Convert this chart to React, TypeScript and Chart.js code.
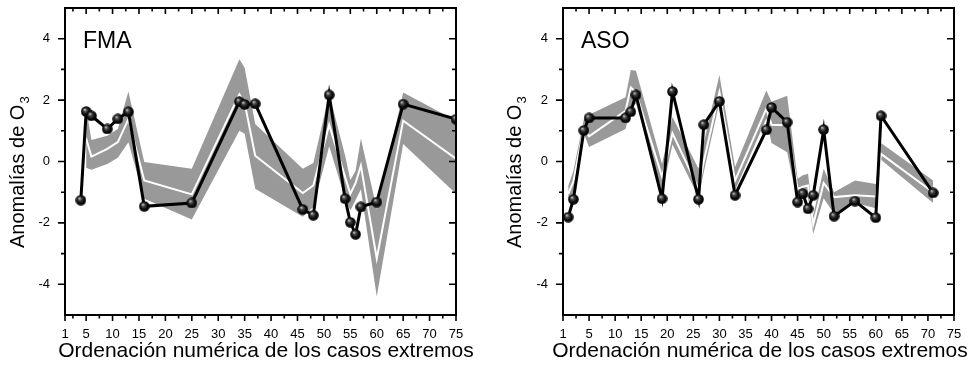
import React, { useEffect, useRef } from 'react';
import { Chart, registerables } from 'chart.js';
Chart.register(...registerables);

const FONT = '"Liberation Sans", Arial, Helvetica, sans-serif';

// ---------- FMA panel ----------
const fmaObsX = [4, 5, 6, 9, 11, 13, 16, 25, 34, 35, 37, 46, 48, 51, 54, 55, 56, 57, 60, 65, 75];
const fmaObs = [-1.26, 1.63, 1.49, 1.06, 1.39, 1.62, -1.46, -1.35, 1.95, 1.86, 1.88, -1.56, -1.75, 2.17, -1.21, -1.98, -2.37, -1.48, -1.32, 1.87, 1.38];
const fmaModX = [5, 6, 9, 11, 13, 16, 25, 34, 35, 37, 46, 48, 51, 54, 55, 56, 57, 60, 65, 75];
const fmaMean = [0.75, 0.16, 0.41, 0.63, 1.38, -0.62, -1.07, 2.19, 1.9, 0.19, -1.03, -0.78, 1.2, -0.5, -1.05, -0.7, -0.13, -3.16, 1.33, 0.09];
const fmaUpper = [1.75, 0.7, 0.84, 1.06, 2.28, -0.02, -0.24, 3.33, 3.05, 1.22, -0.24, -0.05, 2.2, 0.2, -0.6, -0.3, 0.75, -1.55, 2.25, 1.33];
const fmaLower = [-0.2, -0.27, -0.08, 0.12, 0.63, -1.21, -1.89, 1.0, 0.9, -0.89, -1.8, -1.48, 0.5, -1.2, -1.6, -1.25, -0.9, -4.4, 0.57, -1.05];
const fmaTickValues = [1, 5, 10, 15, 20, 25, 30, 35, 40, 45, 50, 55, 60, 65, 70, 75];
const fmaTickLabels = ['1', '5', '10', '15', '20', '25', '30', '35', '40', '45', '50', '55', '60', '65', '70', '75'];

// ---------- ASO panel ----------
const asoX = [1, 2, 4, 5, 12, 13, 14, 19, 21, 26, 27, 30, 33, 39, 40, 43, 45, 46, 47, 48, 50, 52, 56, 60, 61, 71];
const asoObs = [-1.81, -1.23, 1.01, 1.42, 1.42, 1.62, 2.17, -1.21, 2.28, -1.23, 1.2, 1.96, -1.1, 1.03, 1.76, 1.28, -1.32, -1.05, -1.54, -1.1, 1.04, -1.78, -1.29, -1.83, 1.49, -1.02];
const asoMean = [-1.05, -0.65, 1.11, 0.82, 1.65, 2.41, 2.25, -0.5, 0.92, -0.89, 0.0, 2.25, -0.62, 1.72, 1.2, 1.18, -0.89, -0.82, -0.78, -2.05, -0.7, -1.16, -1.1, -1.14, 0.25, -1.0];
const asoUpper = [-0.8, -0.3, 1.38, 1.52, 2.09, 2.98, 2.96, -0.08, 1.45, -0.24, 0.6, 2.82, -0.18, 2.31, 1.95, 2.14, -0.56, -0.45, -0.4, -1.75, -0.24, -1.0, -0.62, -0.73, 0.6, -0.62];
const asoLower = [-1.3, -1.05, 0.9, 0.47, 1.06, 1.72, 1.9, -1.0, 0.55, -1.16, -0.35, 1.92, -0.94, 1.4, 0.6, 0.3, -1.37, -1.2, -1.16, -2.35, -1.2, -1.7, -1.35, -1.52, 0.06, -1.35];
const asoTickValues = [0, 5, 10, 15, 20, 25, 30, 35, 40, 45, 50, 55, 60, 65, 70, 75];
const asoTickLabels = ['1', '5', '10', '15', '20', '25', '30', '35', '40', '45', '50', '55', '60', '65', '70', '75'];

// ---------- shared axes ----------
const yTickValues = [-4, -2, 0, 2, 4];
const yMinorValues = [-3, -1, 1, 3];
const xMinorValues = [2.5, 7.5, 12.5, 17.5, 22.5, 27.5, 32.5, 37.5, 42.5, 47.5, 52.5, 57.5, 62.5, 67.5, 72.5];
const yTitleMain = 'Anomalías de O';
const yTitleSub = '3';
const xTitle = 'Ordenación numérica de los casos extremos';

function makeBall(d: number) {
  const c = document.createElement('canvas');
  c.width = d;
  c.height = d;
  const g = c.getContext('2d')!;
  const r = d / 2;
  const grad = g.createRadialGradient(r - 1.6, r - 2, 0.2, r, r, r);
  grad.addColorStop(0, '#d0d0d0');
  grad.addColorStop(0.28, '#4a4a4a');
  grad.addColorStop(0.65, '#0d0d0d');
  grad.addColorStop(1, '#000');
  g.fillStyle = grad;
  g.beginPath();
  g.arc(r, r, r - 0.2, 0, Math.PI * 2);
  g.fill();
  return c;
}

const framePlugin = {
  id: 'frame',
  afterDraw(chart: any, _args: any, opts: any) {
    const { ctx, chartArea: a, scales } = chart;
    const x = scales.x;
    const y = scales.y;
    ctx.save();
    ctx.strokeStyle = '#000';
    ctx.lineWidth = 2;
    ctx.strokeRect(a.left, a.top, a.right - a.left, a.bottom - a.top);
    ctx.lineWidth = 1.6;
    const vt = (v: number, len: number) => {
      const px = x.getPixelForValue(v);
      ctx.beginPath();
      ctx.moveTo(px, a.bottom);
      ctx.lineTo(px, a.bottom + len);
      ctx.moveTo(px, a.top);
      ctx.lineTo(px, a.top + len);
      ctx.stroke();
    };
    const ht = (v: number, len: number) => {
      const py = y.getPixelForValue(v);
      ctx.beginPath();
      ctx.moveTo(a.left, py);
      ctx.lineTo(a.left - len, py);
      ctx.moveTo(a.right, py);
      ctx.lineTo(a.right - len, py);
      ctx.stroke();
    };
    opts.xMajor.forEach((v: number) => vt(v, 6));
    opts.xMinor.forEach((v: number) => vt(v, 3.5));
    yTickValues.forEach((v) => ht(v, 7));
    yMinorValues.forEach((v) => ht(v, 4));
    ctx.fillStyle = '#000';
    ctx.font = `23px ${FONT}`;
    ctx.textBaseline = 'alphabetic';
    ctx.textAlign = 'left';
    ctx.fillText(opts.label, a.left + 18, 48);

    // x-axis title
    ctx.font = `21px ${FONT}`;
    ctx.textAlign = 'center';
    ctx.fillText(xTitle, opts.xTitleCenter, 357);

    // rotated y-axis title with subscript
    ctx.textAlign = 'left';
    ctx.translate(a.left - opts.yTitleGap, 248);
    ctx.rotate(-Math.PI / 2);
    ctx.font = `20px ${FONT}`;
    ctx.fillText(yTitleMain, 0, 0);
    const w = ctx.measureText(yTitleMain).width;
    ctx.font = `13px ${FONT}`;
    ctx.fillText(yTitleSub, w + 1, 5);
    ctx.restore();
  },
};

type PanelProps = {
  label: string;
  obsX: number[];
  obs: number[];
  modX: number[];
  mean: number[];
  upper: number[];
  lower: number[];
  xMin: number;
  tickValues: number[];
  tickLabels: string[];
  yWidth: number;
  rightPad: number;
  yTitleGap: number;
  xTitleCenter: number;
};

function Panel(p: PanelProps) {
  const ref = useRef<HTMLCanvasElement>(null);
  useEffect(() => {
    const ball = makeBall(11);
    const pts = (xs: number[], ys: number[]) => xs.map((v, i) => ({ x: v, y: ys[i] }));
    const chart = new Chart(ref.current!, {
      type: 'line',
      data: {
        datasets: [
          {
            data: pts(p.obsX, p.obs),
            borderColor: '#000',
            borderWidth: 3,
            pointStyle: ball as any,
            pointRadius: 5,
            tension: 0,
          },
          {
            data: pts(p.modX, p.mean),
            borderColor: '#ffffff',
            borderWidth: 2,
            pointRadius: 0,
            tension: 0,
          },
          {
            data: pts(p.modX, p.upper),
            borderWidth: 0,
            borderColor: 'rgba(0,0,0,0)',
            backgroundColor: '#999999',
            fill: '+1',
            pointRadius: 0,
            tension: 0,
          },
          {
            data: pts(p.modX, p.lower),
            borderWidth: 0,
            borderColor: 'rgba(0,0,0,0)',
            pointRadius: 0,
            tension: 0,
          },
        ],
      },
      options: {
        animation: false,
        responsive: false,
        events: [],
        layout: { padding: { top: 7, right: p.rightPad, left: 0, bottom: 0 } },
        plugins: {
          legend: { display: false },
          tooltip: { enabled: false },
          frame: {
            label: p.label,
            xMajor: p.tickValues,
            xMinor: xMinorValues,
            yTitleGap: p.yTitleGap,
            xTitleCenter: p.xTitleCenter,
          },
        } as any,
        scales: {
          x: {
            type: 'linear',
            min: p.xMin,
            max: 75,
            afterBuildTicks: (s: any) => {
              s.ticks = p.tickValues.map((v) => ({ value: v }));
            },
            afterFit: (s: any) => {
              s.height = 58;
              s.paddingLeft = 0;
              s.paddingRight = 0;
              s.paddingTop = 0;
              s.paddingBottom = 0;
            },
            grid: { display: false, drawTicks: false },
            border: { display: false },
            ticks: {
              autoSkip: false,
              maxRotation: 0,
              color: '#000',
              padding: 12,
              font: { family: FONT, size: 13 },
              callback: (_v: any, i: number) => p.tickLabels[i],
            },
            title: { display: false },
          },
          y: {
            type: 'linear',
            min: -5,
            max: 5,
            afterBuildTicks: (s: any) => {
              s.ticks = yTickValues.map((v) => ({ value: v }));
            },
            afterFit: (s: any) => {
              s.width = p.yWidth;
              s.paddingLeft = 0;
              s.paddingRight = 0;
              s.paddingTop = 0;
              s.paddingBottom = 0;
            },
            grid: { display: false, drawTicks: false },
            border: { display: false },
            ticks: {
              color: '#000',
              padding: 15,
              font: { family: FONT, size: 13 },
              callback: (v: any) => String(v),
            },
            title: { display: false },
          },
        },
      },
      plugins: [framePlugin],
    });
    return () => chart.destroy();
  }, []);
  return <canvas ref={ref} width={484} height={373} style={{ display: 'block' }} />;
}

export default function App() {
  return (
    <div style={{ position: 'absolute', left: 0, top: 0, width: 968, height: 373, background: '#fff' }}>
      <div style={{ position: 'absolute', left: 0, top: 0 }}>
        <Panel
          label="FMA"
          obsX={fmaObsX}
          obs={fmaObs}
          modX={fmaModX}
          mean={fmaMean}
          upper={fmaUpper}
          lower={fmaLower}
          xMin={1}
          tickValues={fmaTickValues}
          tickLabels={fmaTickLabels}
          yWidth={65}
          rightPad={28}
          yTitleGap={41}
          xTitleCenter={266}
        />
      </div>
      <div style={{ position: 'absolute', left: 484, top: 0 }}>
        <Panel
          label="ASO"
          obsX={asoX}
          obs={asoObs}
          modX={asoX}
          mean={asoMean}
          upper={asoUpper}
          lower={asoLower}
          xMin={0}
          tickValues={asoTickValues}
          tickLabels={asoTickLabels}
          yWidth={79}
          rightPad={14}
          yTitleGap={42}
          xTitleCenter={276}
        />
      </div>
    </div>
  );
}
